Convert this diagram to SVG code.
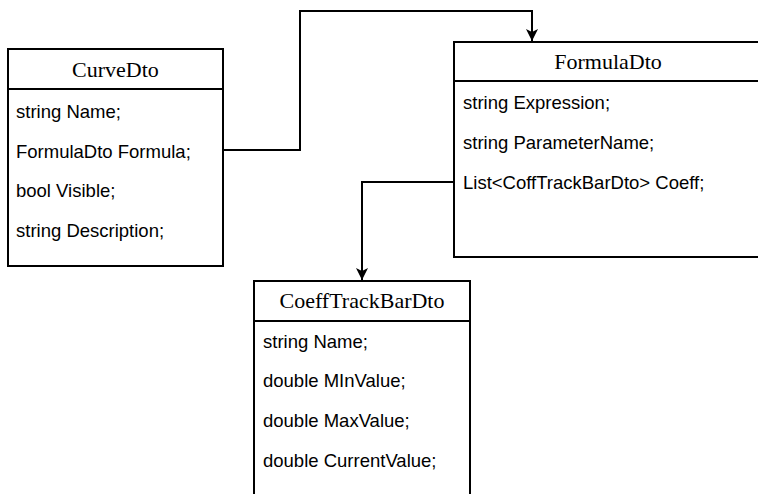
<svg xmlns="http://www.w3.org/2000/svg" width="758" height="494" viewBox="0 0 758 494">
<defs>
<style>
.box{fill:#fff;stroke:#000;stroke-width:2}
.t{font-family:"Liberation Serif","Times New Roman",serif;font-size:22px;fill:#000;text-anchor:middle}
.f{font-family:"Liberation Sans",Arial,sans-serif;font-size:18.5px;fill:#000}
.c{fill:none;stroke:#000;stroke-width:2}
</style>
<marker id="arr" viewBox="0 0 12 12" refX="12" refY="6" markerWidth="12" markerHeight="12" markerUnits="userSpaceOnUse" orient="auto">
<path d="M0,0 L12,6 L0,12 L3,6 Z" fill="#000"/>
</marker>
</defs>
<rect width="758" height="494" fill="#fff"/>
<g id="connectors">
<path class="c" d="M223,150 H300 V11 H532 V41" marker-end="url(#arr)"/>
<path class="c" d="M454,182 H362 V280" marker-end="url(#arr)"/>
</g>
<g id="CurveDto">
<rect class="box" x="8" y="49" width="215" height="217"/>
<line class="box" x1="8" y1="89" x2="223" y2="89"/>
<text class="t" x="115.5" y="77">CurveDto</text>
<text class="f" x="16" y="118">string Name;</text>
<text class="f" x="16" y="158">FormulaDto Formula;</text>
<text class="f" x="16" y="197">bool Visible;</text>
<text class="f" x="16" y="237">string Description;</text>
</g>
<g id="FormulaDto">
<rect class="box" x="454" y="42" width="312" height="215"/>
<line class="box" x1="454" y1="81" x2="766" y2="81"/>
<text class="t" x="608" y="69">FormulaDto</text>
<text class="f" x="463" y="109">string Expression;</text>
<text class="f" x="463" y="149">string ParameterName;</text>
<text class="f" x="463" y="189">List&lt;CoffTrackBarDto&gt; Coeff;</text>
</g>
<g id="CoeffTrackBarDto">
<rect class="box" x="254" y="281" width="216" height="230"/>
<line class="box" x1="254" y1="321" x2="470" y2="321"/>
<text class="t" x="362" y="308">CoeffTrackBarDto</text>
<text class="f" x="263" y="348">string Name;</text>
<text class="f" x="263" y="387">double MInValue;</text>
<text class="f" x="263" y="427">double MaxValue;</text>
<text class="f" x="263" y="467">double CurrentValue;</text>
</g>
</svg>
